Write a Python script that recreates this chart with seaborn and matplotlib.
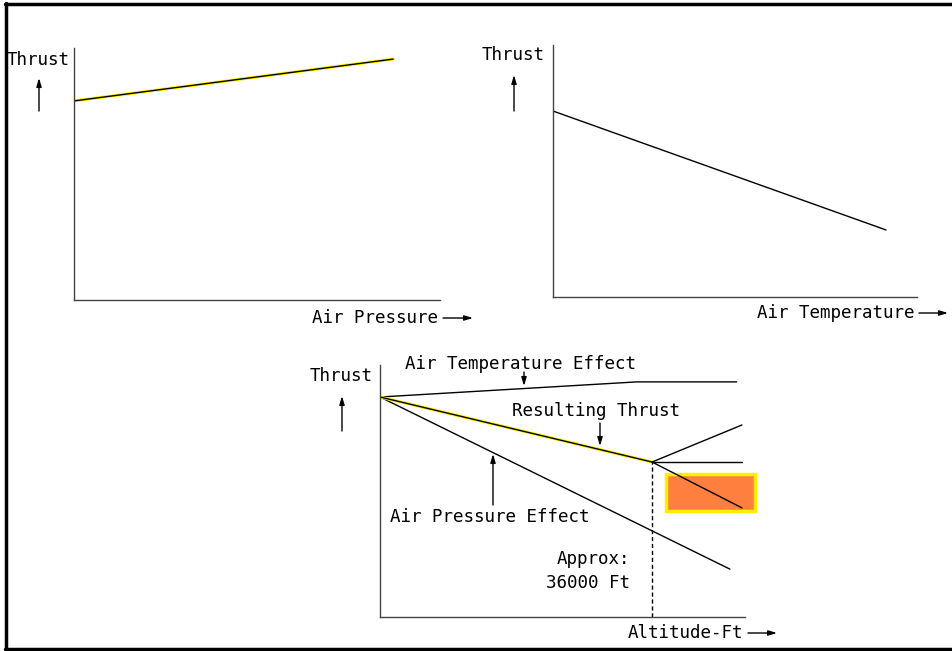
import matplotlib
matplotlib.use("Agg")
import matplotlib.pyplot as plt
import seaborn as sns
from matplotlib.patches import Rectangle

# --------------------------------------------------------------------
# DATA (arbitrary thrust units 0-100)
# --------------------------------------------------------------------

# panel 1: thrust vs air pressure
press_x = [0, 87.2]
press_thrust = [79.0, 95.6]

# panel 2: thrust vs air temperature
temp_x = [0, 91.5]
temp_thrust = [73.8, 26.6]

# panel 3: thrust vs altitude (thousand ft)
tropopause_kft = 36
temp_eff_alt = [0, 34.0, 47.2]
temp_eff_thrust = [87.3, 93.3, 93.3]
result_alt = [0, 36]
result_thrust = [87.3, 61.5]
pressure_eff_alt = [0, 46.3]
pressure_eff_thrust = [87.3, 19.0]
above_alt = [36, 47.9]
above_down = [61.5, 43.3]
above_up = [61.5, 76.2]
above_flat = [61.5, 61.5]
box_alt = [37.9, 49.6]
box_thrust = [42.1, 56.7]

FONT = "DejaVu Sans Mono"
FS = 12.6
W, H = 952, 651


def setup_axes(fig, x0, y0, w, h, xmax, ymax=100):
    ax = fig.add_axes([x0 / W, (H - y0) / H, w / W, h / H])
    ax.set_xlim(0, xmax)
    ax.set_ylim(0, ymax)
    sns.despine(ax=ax)
    for s in ["left", "bottom"]:
        ax.spines[s].set_color("#444444")
        ax.spines[s].set_linewidth(1.0)
    ax.set_xticks([])
    ax.set_yticks([])
    ax.patch.set_alpha(0)
    return ax


def highlighted(ax, x, y):
    sns.lineplot(x=x, y=y, ax=ax, color="#ffee00", lw=2.2, sort=False)
    sns.lineplot(x=x, y=y, ax=ax, color="black", lw=1.0, sort=False)


def plain(ax, x, y, color="black", lw=1.0):
    sns.lineplot(x=x, y=y, ax=ax, color=color, lw=lw, sort=False)


def main():
    sns.set_style("white")
    fig = plt.figure(figsize=(W / 100, H / 100), dpi=100)

    # overlay for frame, labels and arrows (pixel coords)
    ov = fig.add_axes([0, 0, 1, 1])
    ov.set_xlim(0, W)
    ov.set_ylim(H, 0)
    ov.axis("off")
    ov.plot([6, 6], [3, 650], color="black", lw=2.5)
    ov.plot([5, W], [4, 4], color="black", lw=2.5)
    ov.plot([5, W], [649, 649], color="black", lw=2.5)

    def txt(x, y, s, ha="left"):
        ov.text(x, y, s, ha=ha, va="center", family=FONT, fontsize=FS,
                color="black")

    def arrow(x1, y1, x2, y2):
        ov.annotate("", xy=(x2, y2), xytext=(x1, y1),
                    arrowprops=dict(arrowstyle="-|>,head_length=0.5,head_width=0.15",
                                    color="black", lw=1.0, shrinkA=0, shrinkB=0))

    # panel 1
    ax1 = setup_axes(fig, 74, 300, 366, 252, 100)
    highlighted(ax1, press_x, press_thrust)
    txt(7, 60, "Thrust")
    arrow(39, 111, 39, 78)
    txt(312, 318, "Air Pressure")
    arrow(443, 318, 473, 318)

    # panel 2
    ax2 = setup_axes(fig, 553, 297, 364, 252, 100)
    plain(ax2, temp_x, temp_thrust)
    txt(482, 55, "Thrust")
    arrow(514, 111, 514, 75)
    txt(757, 313, "Air Temperature")
    arrow(919, 313, 948, 313)

    # panel 3
    ax3 = setup_axes(fig, 380, 617, 365, 252, 48.3)
    plain(ax3, temp_eff_alt, temp_eff_thrust)
    plain(ax3, pressure_eff_alt, pressure_eff_thrust)
    highlighted(ax3, result_alt, result_thrust)
    ax3.add_patch(Rectangle((box_alt[0], box_thrust[0]), box_alt[1] - box_alt[0],
                            box_thrust[1] - box_thrust[0], facecolor="#ff7f3f",
                            edgecolor="#ffee00", lw=2.5, clip_on=False, zorder=3))
    for ys in (above_down, above_up, above_flat):
        ax3.plot(above_alt, ys, color="black", lw=1.0, zorder=4, clip_on=False)
    ax3.plot([tropopause_kft, tropopause_kft], [0, result_thrust[-1]],
             color="black", lw=1.0, ls=(0, (3, 2)))

    txt(310, 376, "Thrust")
    arrow(342, 431, 342, 396)
    txt(405, 364, "Air Temperature Effect")
    arrow(524, 372, 524, 386)
    txt(512, 411, "Resulting Thrust")
    arrow(600, 423, 600, 446)
    txt(390, 517, "Air Pressure Effect")
    arrow(493, 505, 493, 454)
    txt(630, 559, "Approx:", ha="right")
    txt(630, 583, "36000 Ft", ha="right")
    txt(628, 633, "Altitude-Ft")
    arrow(748, 633, 777, 633)

    fig.savefig("out.png", dpi=100)
    plt.close(fig)


if __name__ == "__main__":
    main()
